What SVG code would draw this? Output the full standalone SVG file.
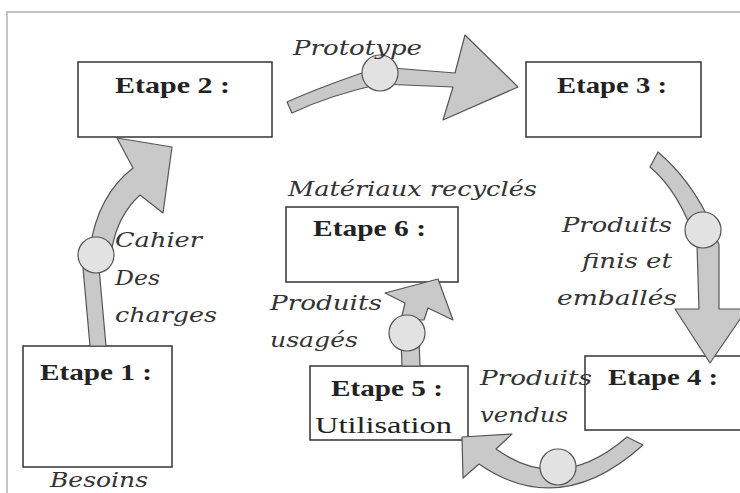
<svg xmlns="http://www.w3.org/2000/svg" width="740" height="493" viewBox="0 0 740 493">
<style>
.frame{stroke:#c4c4c4;stroke-width:2;fill:none}
.box{fill:#fff;stroke:#333;stroke-width:1.5}
.arrow{fill:#c9c9c9;stroke:#555;stroke-width:1.2;stroke-linejoin:round}
.dot{fill:#e2e2e2;stroke:#555;stroke-width:1.2}
.t{font-family:"Liberation Serif","Times New Roman",serif;font-weight:bold;font-size:23px;fill:#222}
.r{font-family:"Liberation Serif","Times New Roman",serif;font-size:23px;fill:#222}
.i{font-family:"DejaVu Serif","Liberation Serif",serif;font-style:italic;font-size:21px;fill:#333}
</style>
<rect width="740" height="493" fill="#fff"/>
<path class="frame" d="M7,493 L7,12 L740,12"/>

<g id="etape2"><rect class="box" x="78" y="62" width="194" height="75"/><text class="t" x="115" y="93" textLength="115" lengthAdjust="spacingAndGlyphs">Etape 2 :</text></g>
<g id="etape3"><rect class="box" x="526" y="62" width="175" height="75"/><text class="t" x="557" y="93" textLength="110" lengthAdjust="spacingAndGlyphs">Etape 3 :</text></g>
<g id="etape1"><rect class="box" x="23" y="346" width="149" height="121"/><text class="t" x="40" y="380" textLength="112" lengthAdjust="spacingAndGlyphs">Etape 1 :</text></g>
<g id="etape6"><rect class="box" x="286" y="207" width="172" height="75"/><text class="t" x="313" y="236" textLength="113" lengthAdjust="spacingAndGlyphs">Etape 6 :</text></g>
<g id="etape5"><rect class="box" x="310" y="366" width="158" height="74"/><text class="t" x="331" y="396" textLength="112" lengthAdjust="spacingAndGlyphs">Etape 5 :</text><text class="r" x="315" y="433" textLength="137" lengthAdjust="spacingAndGlyphs">Utilisation</text></g>
<g id="etape4"><rect class="box" x="585" y="356" width="170" height="74"/><text class="t" x="608" y="385" textLength="110" lengthAdjust="spacingAndGlyphs">Etape 4 :</text></g>

<g id="connectors">
<path class="arrow" d="M83,268 L99,268 L106,346 L90,346 Z"/>
<path class="arrow" d="M90,248 Q98,195 133,168 L117,138 L172,147 L163,213 L140,195 Q118,215 112,248 Z"/>
<circle class="dot" cx="96" cy="255" r="18"/>
<path class="arrow" d="M287,102 Q325,85 380,67 L455,73 L465,35 L518,87 L443,120 L453,87 L380,84 Q330,95 292,113 Z"/>
<circle class="dot" cx="380" cy="73" r="18"/>
<path class="arrow" d="M658,152 Q700,188 719,245 L719,309 L747,309 L710,363 L675,309 L699,309 L697,245 Q680,192 650,167 Z"/>
<circle class="dot" cx="703" cy="230" r="18"/>
<path class="arrow" d="M627,437 L643,445 Q560,520 479,464 L463,478 L462,437 L512,434 L496,449 Q560,495 627,437 Z"/>
<circle class="dot" cx="558" cy="467" r="18"/>
<path class="arrow" d="M401,340 L419,340 L420,366 L402,366 Z"/>
<path class="arrow" d="M401,320 L405,303 L385,293 L438,279 L453,320 L428,308 L424,320 Z"/>
<circle class="dot" cx="407" cy="333" r="18"/>
</g>

<g id="labels">
<text class="i" x="293" y="55" textLength="129" lengthAdjust="spacingAndGlyphs">Prototype</text>
<text class="i" x="115" y="247" textLength="87" lengthAdjust="spacingAndGlyphs">Cahier</text>
<text class="i" x="115" y="285" textLength="45" lengthAdjust="spacingAndGlyphs">Des</text>
<text class="i" x="115" y="322" textLength="102" lengthAdjust="spacingAndGlyphs">charges</text>
<text class="i" x="288" y="196" textLength="249" lengthAdjust="spacingAndGlyphs">Matériaux recyclés</text>
<text class="i" x="270" y="310" textLength="112" lengthAdjust="spacingAndGlyphs">Produits</text>
<text class="i" x="270" y="347" textLength="88" lengthAdjust="spacingAndGlyphs">usagés</text>
<text class="i" x="562" y="232" textLength="110" lengthAdjust="spacingAndGlyphs">Produits</text>
<text class="i" x="582" y="268" textLength="90" lengthAdjust="spacingAndGlyphs">finis et</text>
<text class="i" x="557" y="305" textLength="120" lengthAdjust="spacingAndGlyphs">emballés</text>
<text class="i" x="480" y="385" textLength="112" lengthAdjust="spacingAndGlyphs">Produits</text>
<text class="i" x="480" y="422" textLength="88" lengthAdjust="spacingAndGlyphs">vendus</text>
<text class="i" x="50" y="487" textLength="98" lengthAdjust="spacingAndGlyphs">Besoins</text>
</g>
</svg>
